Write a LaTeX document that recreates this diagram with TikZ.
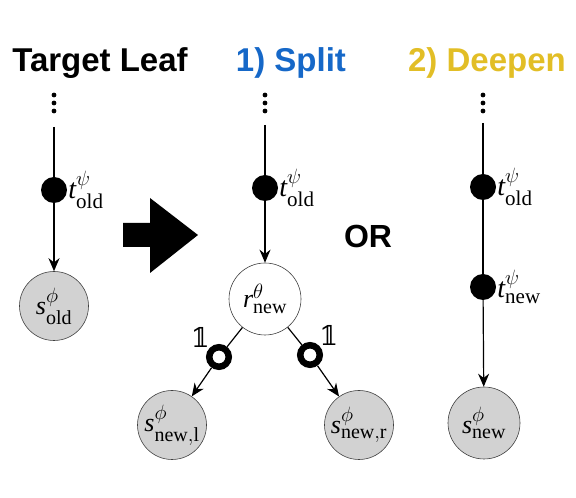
\documentclass[tikz,border=0pt]{standalone}
\usepackage{amsmath,amssymb}
\usepackage{fontspec}
\setmainfont{Liberation Serif}
\newfontfamily\headfont{Liberation Sans}
\newfontfamily\indfont{DejaVu Serif}
\usetikzlibrary{arrows.meta}
\definecolor{splitblue}{RGB}{22,104,200}
\definecolor{deepengold}{RGB}{226,190,38}
\DeclareMathSizes{28}{28}{21}{16}
\DeclareMathSizes{26}{26}{20}{15}

\begin{document}
\begin{tikzpicture}[
	x=1pt,y=1pt,
	title/.style={font=\headfont\bfseries\fontsize{33}{36}\selectfont,anchor=base,inner sep=0},
	lbl/.style={font=\fontsize{28}{32}\selectfont,inner sep=1pt},
	ind/.style={font=\indfont\fontsize{27}{30}\selectfont,inner sep=0pt},
	leafnode/.style={circle,draw=black!75,fill=gray!35,line width=0.6pt,minimum size=69pt,inner sep=0pt,font=\fontsize{26}{28}\selectfont},
	routenode/.style={leafnode,fill=white,minimum size=72pt},
	tdot/.style={circle,fill,inner sep=0pt,minimum size=26pt},
	gate/.style={circle,draw,line width=6.5pt,fill=white,inner sep=0pt,minimum size=19.5pt},
	flow/.style={line width=1.2pt,-{Stealth[length=13pt,width=11pt]}}
]
	\useasboundingbox (0,0) rectangle (576,498);

	% titles
	\node[title] (head0) at (100,426) {Target Leaf};
	\node[title,text=splitblue] (head1) at (291,426) {1) Split};
	\node[title,text=deepengold] (head2) at (487,426) {2) Deepen};
	\node[title,font=\headfont\bfseries\fontsize{32}{36}\selectfont] (or) at (368,250) {OR};

	% big arrow
	\fill (123,275) -- (150,275) -- (150,300) -- (198,263) -- (150,225)
		-- (150,251) -- (123,251) -- cycle;

	% ellipsis dots
	\foreach \x in {54,265,483}
		\foreach \y in {403,395,387}
			\fill (\x,\y) circle (2.4);

	% target leaf
	\coordinate (Ltop) at (54,371);
	\node[tdot,label={[lbl]right:$\mathit{t}^{\psi}_{\mathrm{old}}$}] (Lt) at (54,308) {};
	\node[leafnode] (Ls) at (54,192) {$\mathit{s}^{\phi}_{\mathrm{old}}$};
	\draw[line width=1.2pt] (Ltop) -- (Lt);
	\draw[flow] (Lt) -- (Ls);

	% split
	\coordinate (Stop) at (265,373);
	\node[tdot,label={[lbl]right:$\mathit{t}^{\psi}_{\mathrm{old}}$}] (St) at (265,310) {};
	\node[routenode] (Sr) at (265,199) {$\mathit{r}^{\theta}_{\mathrm{new}}$};
	\node[gate,label={[ind]above left:𝟙}] (Sgl) at (219,141) {};
	\node[gate,label={[ind]above right:𝟙}] (Sgr) at (310,143) {};
	\node[leafnode] (Ssl) at (172,73) {$\mathit{s}^{\phi}_{\mathrm{new,l}}$};
	\node[leafnode] (Ssr) at (359,73) {$\mathit{s}^{\phi}_{\mathrm{new,r}}$};
	\draw[line width=1.2pt] (Stop) -- (St);
	\draw[flow] (St) -- (Sr);
	\draw[line width=1.2pt] (Sr) -- (Sgl);
	\draw[line width=1.2pt] (Sr) -- (Sgr);
	\draw[flow] (Sgl) -- (Ssl);
	\draw[flow] (Sgr) -- (Ssr);

	% deepen
	\coordinate (Dtop) at (483,375);
	\node[tdot,label={[lbl]right:$\mathit{t}^{\psi}_{\mathrm{old}}$}] (Dt) at (483,311) {};
	\node[tdot,label={[lbl]right:$\mathit{t}^{\psi}_{\mathrm{new}}$}] (Dn) at (483,211) {};
	\node[leafnode,minimum size=72pt] (Ds) at (484,75) {$\mathit{s}^{\phi}_{\mathrm{new}}$};
	\draw[line width=1.2pt] (Dtop) -- (Dt);
	\draw[line width=1.2pt] (Dt) -- (Dn);
	\draw[flow] (Dn) -- (Ds);
\end{tikzpicture}
\end{document}
